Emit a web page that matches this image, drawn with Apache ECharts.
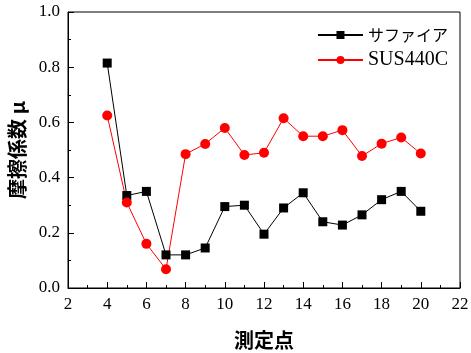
<!DOCTYPE html>
<html>
<head>
<meta charset="utf-8">
<script src="https://cdn.jsdelivr.net/npm/echarts@6/dist/echarts.min.js"></script>
<style>
  html, body { margin: 0; padding: 0; background: #fff; }
  #chart { width: 471px; height: 353px; }
</style>
</head>
<body>
<div id="chart"></div>
<script>
// 測定点
var points = [4, 5, 6, 7, 8, 9, 10, 11, 12, 13, 14, 15, 16, 17, 18, 19, 20];
// サファイア
var sapphire = [0.815, 0.335, 0.35, 0.12, 0.12, 0.145, 0.295, 0.30, 0.195, 0.29, 0.345, 0.24, 0.228, 0.265, 0.32, 0.35, 0.278];
// SUS440C
var sus440c = [0.625, 0.31, 0.16, 0.068, 0.485, 0.522, 0.58, 0.482, 0.49, 0.615, 0.55, 0.55, 0.572, 0.478, 0.523, 0.545, 0.487];

function pairs(ys) {
    var out = [];
    for (var i = 0; i < points.length; i++) {
        out.push([points[i], ys[i]]);
    }
    return out;
}

var serif = 'Liberation Serif';
var cjk = 'Noto Sans CJK JP';

var mychart = echarts.init(document.getElementById('chart'));
var option = {
    animation: false,
    textStyle: { fontFamily: serif },
    grid: {
        left: 68,
        right: 11,
        top: 12,
        bottom: 65,
        outerBoundsMode: 'none',
        show: true,
        borderColor: '#000',
        borderWidth: 1,
        backgroundColor: 'transparent'
    },
    legend: {
        right: 18,
        top: 22,
        orient: 'vertical',
        itemWidth: 45,
        itemHeight: 10,
        itemGap: 7,
        formatter: function (name) {
            return name === 'SUS440C' ? '{s|' + name + '}' : '{k|' + name + '}';
        },
        textStyle: {
            color: '#000',
            rich: {
                s: { fontFamily: serif, fontSize: 20, color: '#000', height: 20 },
                k: { fontFamily: cjk, fontSize: 16, color: '#000', height: 20 }
            }
        },
        data: ['サファイア', 'SUS440C']
    },
    xAxis: {
        type: 'value',
        min: 2,
        max: 22,
        interval: 2,
        name: '測定点',
        nameLocation: 'middle',
        nameGap: 42,
        nameTextStyle: { fontFamily: cjk, fontSize: 20, fontWeight: 'bold', color: '#000' },
        axisLine: { lineStyle: { color: '#000', width: 1 } },
        axisTick: { inside: true, length: 6, lineStyle: { color: '#000' } },
        minorTick: { show: true, splitNumber: 2, length: 3, lineStyle: { color: '#000' } },
        axisLabel: { fontFamily: serif, fontSize: 17, color: '#000', margin: 8 },
        splitLine: { show: false }
    },
    yAxis: {
        type: 'value',
        min: 0,
        max: 1,
        interval: 0.2,
        name: '摩擦係数 μ',
        nameLocation: 'middle',
        nameGap: 40,
        nameTextStyle: { fontFamily: cjk, fontSize: 20, fontWeight: 'bold', color: '#000' },
        axisLine: { show: true, lineStyle: { color: '#000', width: 1 } },
        axisTick: { show: true, inside: true, length: 6, lineStyle: { color: '#000' } },
        minorTick: { show: true, splitNumber: 2, length: 3, lineStyle: { color: '#000' } },
        axisLabel: {
            fontFamily: serif, fontSize: 17, color: '#000', margin: 8,
            formatter: function (v) { return v.toFixed(1); }
        },
        splitLine: { show: false }
    },
    series: [
        {
            name: 'サファイア',
            type: 'line',
            data: pairs(sapphire),
            symbol: 'rect',
            symbolSize: 9,
            itemStyle: { color: '#000' },
            lineStyle: { color: '#000', width: 1 }
        },
        {
            name: 'SUS440C',
            type: 'line',
            data: pairs(sus440c),
            symbol: 'circle',
            symbolSize: 10,
            itemStyle: { color: '#f00' },
            lineStyle: { color: '#f00', width: 1 }
        }
    ]
};
mychart.setOption(option);
</script>
</body>
</html>
